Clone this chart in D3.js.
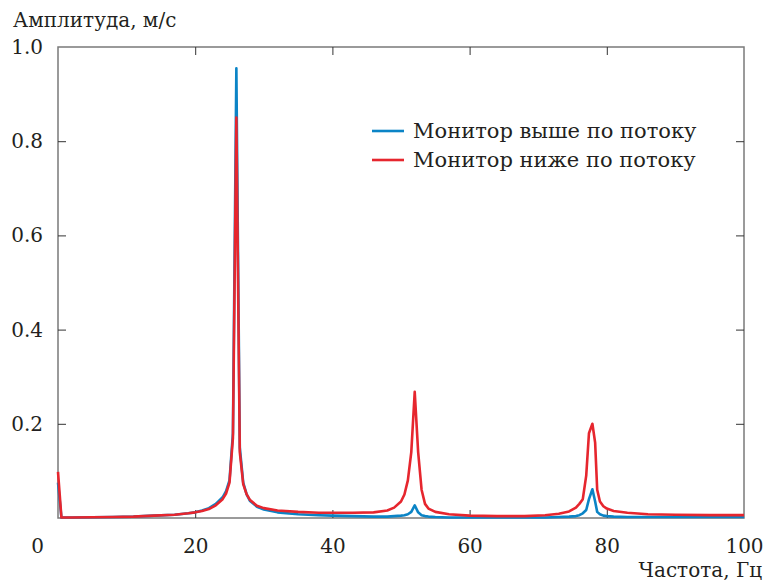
<!DOCTYPE html>
<html>
<head>
<meta charset="utf-8">
<script src="https://cdn.jsdelivr.net/npm/d3@7"></script>
<style>
  body { margin: 0; background: #fff; }
</style>
</head>
<body>
<svg width="765" height="583"></svg>
<script>
// frequency, Hz
const freq = [0, 0.5, 2, 5, 8, 11, 14, 17, 19, 20, 21, 22, 23, 24, 24.5, 25, 25.5, 26, 26.5, 27, 27.5, 28, 29, 30,
  32, 35, 38, 40, 43, 46, 48, 49, 50, 50.5, 51, 51.5, 52, 52.5, 53, 53.5, 54, 55, 57, 60, 64, 68, 71, 73,
  74.5, 75.5, 76, 76.5, 77, 77.4, 77.9, 78.3, 78.6, 79, 79.5, 80, 81, 83, 86, 90, 95, 100];

// upstream monitor (blue)
const upstream = [0.075, 0.001, 0.001, 0.0015, 0.002, 0.003, 0.005, 0.007, 0.010, 0.012, 0.016, 0.021, 0.030, 0.044,
  0.057, 0.080, 0.180, 0.955, 0.150, 0.075, 0.050, 0.036, 0.024, 0.018,
  0.012, 0.008, 0.006, 0.005, 0.004, 0.003, 0.003, 0.004, 0.005, 0.006, 0.008, 0.013, 0.027, 0.012, 0.006,
  0.004, 0.003, 0.002, 0.001, 0.001, 0.001, 0.001, 0.001, 0.002,
  0.003, 0.004, 0.006, 0.010, 0.017, 0.040, 0.061, 0.035, 0.013, 0.008, 0.005, 0.004, 0.003, 0.002, 0.002, 0.002, 0.002, 0.002];

// downstream monitor (red)
const downstream = [0.098, 0.001, 0.001, 0.0015, 0.002, 0.003, 0.005, 0.007, 0.010, 0.012, 0.015, 0.019, 0.027, 0.040,
  0.052, 0.075, 0.170, 0.850, 0.140, 0.072, 0.050, 0.038, 0.026, 0.021,
  0.016, 0.013, 0.011, 0.011, 0.011, 0.012, 0.016, 0.022, 0.035, 0.050, 0.080, 0.140, 0.268, 0.140, 0.060,
  0.030, 0.020, 0.013, 0.008, 0.005, 0.004, 0.004, 0.006, 0.009,
  0.014, 0.022, 0.030, 0.040, 0.090, 0.180, 0.200, 0.160, 0.060, 0.035, 0.025, 0.020, 0.015, 0.011, 0.008, 0.007, 0.006, 0.006];

const xTicks = [0, 20, 40, 60, 80, 100];
const yTicks = [0.2, 0.4, 0.6, 0.8, 1.0];
const seriesNames = ['Монитор выше по потоку', 'Монитор ниже по потоку'];
const colors = ['#0b84c6', '#e6262e'];

const margin = {top: 47, right: 21, bottom: 65, left: 58};
const width = 765, height = 583;
const font = 'DejaVu Serif';
const textColor = '#231f20';

const svg = d3.select('svg')
  .attr('font-family', font);

const x = d3.scaleLinear().domain([0, 100]).range([margin.left, width - margin.right]);
const y = d3.scaleLinear().domain([0, 1]).range([height - margin.bottom, margin.top]);

const frameColor = '#7a7a7a';

// frame
svg.append('rect')
  .attr('x', x(0)).attr('y', y(1))
  .attr('width', x(100) - x(0)).attr('height', y(0) - y(1))
  .attr('fill', 'none').attr('stroke', frameColor).attr('stroke-width', 1.5);

// bottom axis, ticks point in
const xAxis = svg.append('g')
  .attr('transform', `translate(0,${y(0)})`)
  .call(d3.axisBottom(x).tickValues(xTicks).tickSize(-8).tickPadding(21).tickFormat(d3.format('d')))
  .attr('font-family', font);
xAxis.select('.domain').remove();
xAxis.selectAll('line').attr('stroke', '#333').attr('stroke-width', 1);
xAxis.selectAll('text').attr('font-size', 20).attr('fill', textColor);
xAxis.selectAll('.tick').filter(d => d === 0).select('text').attr('dx', -21);
xAxis.selectAll('.tick').filter(d => d === 0 || d === 100).select('line').remove();

// top mirror ticks
const xTop = svg.append('g')
  .attr('transform', `translate(0,${y(1)})`)
  .call(d3.axisTop(x).tickValues(xTicks.slice(1, -1)).tickSize(-8).tickFormat(''));
xTop.select('.domain').remove();
xTop.selectAll('line').attr('stroke', '#333');

// left axis
const yAxis = svg.append('g')
  .attr('transform', `translate(${x(0)},0)`)
  .call(d3.axisLeft(y).tickValues(yTicks).tickSize(-8).tickPadding(15).tickFormat(d3.format('.1f')))
  .attr('font-family', font);
yAxis.select('.domain').remove();
yAxis.selectAll('line').attr('stroke', '#333');
yAxis.selectAll('.tick').filter(d => d === 1).select('line').remove();
yAxis.selectAll('text').attr('font-size', 20).attr('fill', textColor);

// right mirror ticks
const yRight = svg.append('g')
  .attr('transform', `translate(${x(100)},0)`)
  .call(d3.axisRight(y).tickValues(yTicks.slice(0, -1)).tickSize(-8).tickFormat(''));
yRight.select('.domain').remove();
yRight.selectAll('line').attr('stroke', '#333');

// axis titles
svg.append('text').attr('x', 13).attr('y', 27).attr('font-size', 20).attr('fill', textColor).text('Амплитуда, м/с');
svg.append('text').attr('x', 762).attr('y', 577).attr('text-anchor', 'end').attr('font-size', 20)
  .attr('fill', textColor).text('Частота, Гц');

// lines
const line = d3.line()
  .x((d, i) => x(freq[i]))
  .y(d => y(d));

[upstream, downstream].forEach((s, i) => {
  svg.append('path')
    .datum(s)
    .attr('fill', 'none')
    .attr('stroke', colors[i])
    .attr('stroke-width', 2.6)
    .attr('stroke-linejoin', 'round')
    .attr('d', line);
});

// legend
const legend = svg.append('g').attr('transform', 'translate(372,131)');
seriesNames.forEach((name, i) => {
  const g = legend.append('g').attr('transform', `translate(0,${i * 29})`);
  g.append('line').attr('x1', 0).attr('x2', 32).attr('stroke', colors[i]).attr('stroke-width', 2.6);
  g.append('text').attr('x', 41).attr('y', 7).attr('font-size', 21).attr('fill', textColor).text(name);
});
</script>
</body>
</html>
